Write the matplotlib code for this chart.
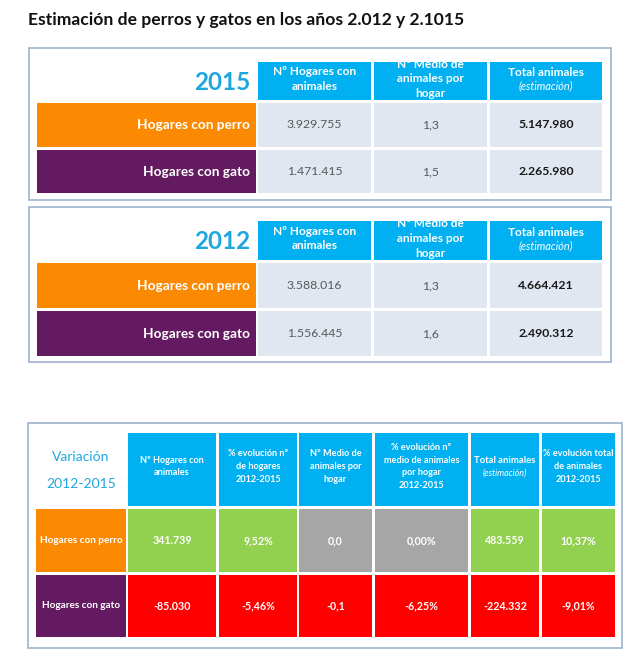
import matplotlib
matplotlib.use("Agg")
import matplotlib.pyplot as plt
from matplotlib.patches import Rectangle

# ---------------- data ----------------
title = "Estimación de perros y gatos en los años 2.012 y 2.1015"
categories = ["Hogares con perro", "Hogares con gato"]

years = ["2015", "2012"]
hogares = {"2015": [3929755, 1471415], "2012": [3588016, 1556445]}
medio = {"2015": [1.3, 1.5], "2012": [1.3, 1.6]}
total = {"2015": [5147980, 2265980], "2012": [4664421, 2490312]}

year_headers = ["Nº Hogares con\nanimales", "Nº Medio de\nanimales por\nhogar", "Total animales"]

var_title = "Variación\n2012-2015"
var_headers = ["Nº Hogares con\nanimales", "% evolución nº\nde hogares\n2012-2015",
               "Nº Medio de\nanimales por\nhogar", "% evolución nº\nmedio de animales\npor hogar\n2012-2015",
               "Total animales", "% evolución total\nde animales\n2012-2015"]
var_hogares = [341739, -85030]
var_hogares_pct = [9.52, -5.46]
var_medio = [0.0, -0.1]
var_medio_pct = [0.00, -6.25]
var_total = [483559, -224332]
var_total_pct = [10.37, -9.01]


def fmt_int(v):
    return f"{v:,}".replace(",", ".")


def fmt_dec(v, n):
    return f"{v:.{n}f}".replace(".", ",")


# ---------------- style ----------------
plt.rcParams["font.family"] = ["Lato", "DejaVu Sans"]
C_HEAD = "#00b0f0"
C_YEAR = "#1ea6df"
C_ORANGE = "#fb8a02"
C_PURPLE = "#631a60"
C_DATA = "#e0e7f1"
C_GREEN = "#92d050"
C_GRAY = "#a6a6a6"
C_RED = "#ff0000"
C_BORDER = "#9db3cf"

W, H = 642, 656
fig = plt.figure(figsize=(W / 100, H / 100), dpi=100)
ax = fig.add_axes([0, 0, 1, 1])
ax.set_xlim(0, W)
ax.set_ylim(H, 0)
ax.axis("off")


def rect(x0, y0, x1, y1, fc, ec="none", lw=0):
    r = Rectangle((x0, y0), x1 - x0, y1 - y0, facecolor=fc, edgecolor=ec, linewidth=lw)
    ax.add_patch(r)
    return r


ax.text(28, 20, title, fontsize=12.6, fontweight="bold",
        ha="left", va="center", color="#111111")

# ---------------- year tables ----------------
boxes = [(48, 200, 62, 100, [(103, 147), (150, 193)]),
         (207, 362, 221, 260, [(263, 308), (311, 356)])]
cols = [(258, 371), (374, 487), (490, 602)]
label_x = (37, 256)
row_colors = [C_ORANGE, C_PURPLE]

for yr, (by0, by1, hy0, hy1, rows) in zip(years, boxes):
    rect(29, by0, 611, by1, "white", C_BORDER, 1.2)
    ax.text(label_x[1] - 6, (hy0 + hy1) / 2 + 1, yr, fontsize=17.5, fontweight="bold",
            color=C_YEAR, ha="right", va="center")
    for (cx0, cx1), htxt in zip(cols, year_headers):
        r = rect(cx0, hy0, cx1, hy1, C_HEAD)
        cx = (cx0 + cx1) / 2
        cy = (hy0 + hy1) / 2 - 2
        if htxt == "Total animales":
            ax.text(cx, cy - 6, htxt, fontsize=8.6, fontweight="bold", color="white",
                    ha="center", va="center")
            ax.text(cx, cy + 7, "(estimación)", fontsize=7.8, style="italic", color="white",
                    ha="center", va="center")
        else:
            t = ax.text(cx, cy, htxt, fontsize=8.6, fontweight="bold", color="white",
                        ha="center", va="center", linespacing=1.42)
            t.set_clip_path(r)
    for i, (ry0, ry1) in enumerate(rows):
        cy = (ry0 + ry1) / 2
        rect(label_x[0], ry0, label_x[1], ry1, row_colors[i])
        ax.text(label_x[1] - 6, cy, categories[i], fontsize=9.8, fontweight="bold",
                color="white", ha="right", va="center")
        vals = [(fmt_int(hogares[yr][i]), "normal", "#595959"),
                (fmt_dec(medio[yr][i], 1), "normal", "#595959"),
                (fmt_int(total[yr][i]), "bold", "#1a1a1a")]
        for (cx0, cx1), (txt, fw, col) in zip(cols, vals):
            rect(cx0, ry0, cx1, ry1, C_DATA)
            ax.text((cx0 + cx1) / 2, cy, txt, fontsize=8.8, fontweight=fw, color=col,
                    ha="center", va="center")

# ---------------- variation table ----------------
rect(28, 423, 622, 648, "white", C_BORDER, 1.2)
vcols = [(128, 216), (219, 297), (299, 372), (375, 468), (471, 539), (542, 615)]
vlabel = (36, 126)
vhead = (433, 506)
vrows = [(509, 572), (575, 637)]

ax.text((vlabel[0] + vlabel[1]) / 2, (vhead[0] + vhead[1]) / 2 + 1, var_title, fontsize=10,
        color=C_YEAR, ha="center", va="center", linespacing=2.55)
for (cx0, cx1), htxt in zip(vcols, var_headers):
    rect(cx0, vhead[0], cx1, vhead[1], C_HEAD)
    cx = (cx0 + cx1) / 2
    cy = (vhead[0] + vhead[1]) / 2 - 3
    if htxt == "Total animales":
        ax.text(cx, cy - 6, htxt, fontsize=6.8, fontweight="bold", color="white",
                ha="center", va="center")
        ax.text(cx, cy + 7, "(estimación)", fontsize=6.4, style="italic", color="white",
                ha="center", va="center")
    else:
        ax.text(cx, cy, htxt, fontsize=6.6, fontweight="bold", color="white",
                ha="center", va="center", linespacing=1.55)

var_series = [
    (var_hogares, lambda v: fmt_int(v)),
    (var_hogares_pct, lambda v: fmt_dec(v, 2) + "%"),
    (var_medio, lambda v: fmt_dec(v, 1)),
    (var_medio_pct, lambda v: fmt_dec(v, 2) + "%"),
    (var_total, lambda v: fmt_int(v)),
    (var_total_pct, lambda v: fmt_dec(v, 2) + "%"),
]

for i, (ry0, ry1) in enumerate(vrows):
    cy = (ry0 + ry1) / 2
    rect(vlabel[0], ry0, vlabel[1], ry1, row_colors[i])
    ax.text((vlabel[0] + vlabel[1]) / 2, cy, categories[i], fontsize=7.2, fontweight="bold",
            color="white", ha="center", va="center")
    for (cx0, cx1), (series, f) in zip(vcols, var_series):
        v = series[i]
        fc = C_GREEN if v > 0 else (C_RED if v < 0 else C_GRAY)
        rect(cx0, ry0, cx1, ry1, fc)
        ax.text((cx0 + cx1) / 2, cy, f(v), fontsize=7.7, fontweight="bold", color="white",
                ha="center", va="center")

fig.savefig("out.png", dpi=100, facecolor="white")
